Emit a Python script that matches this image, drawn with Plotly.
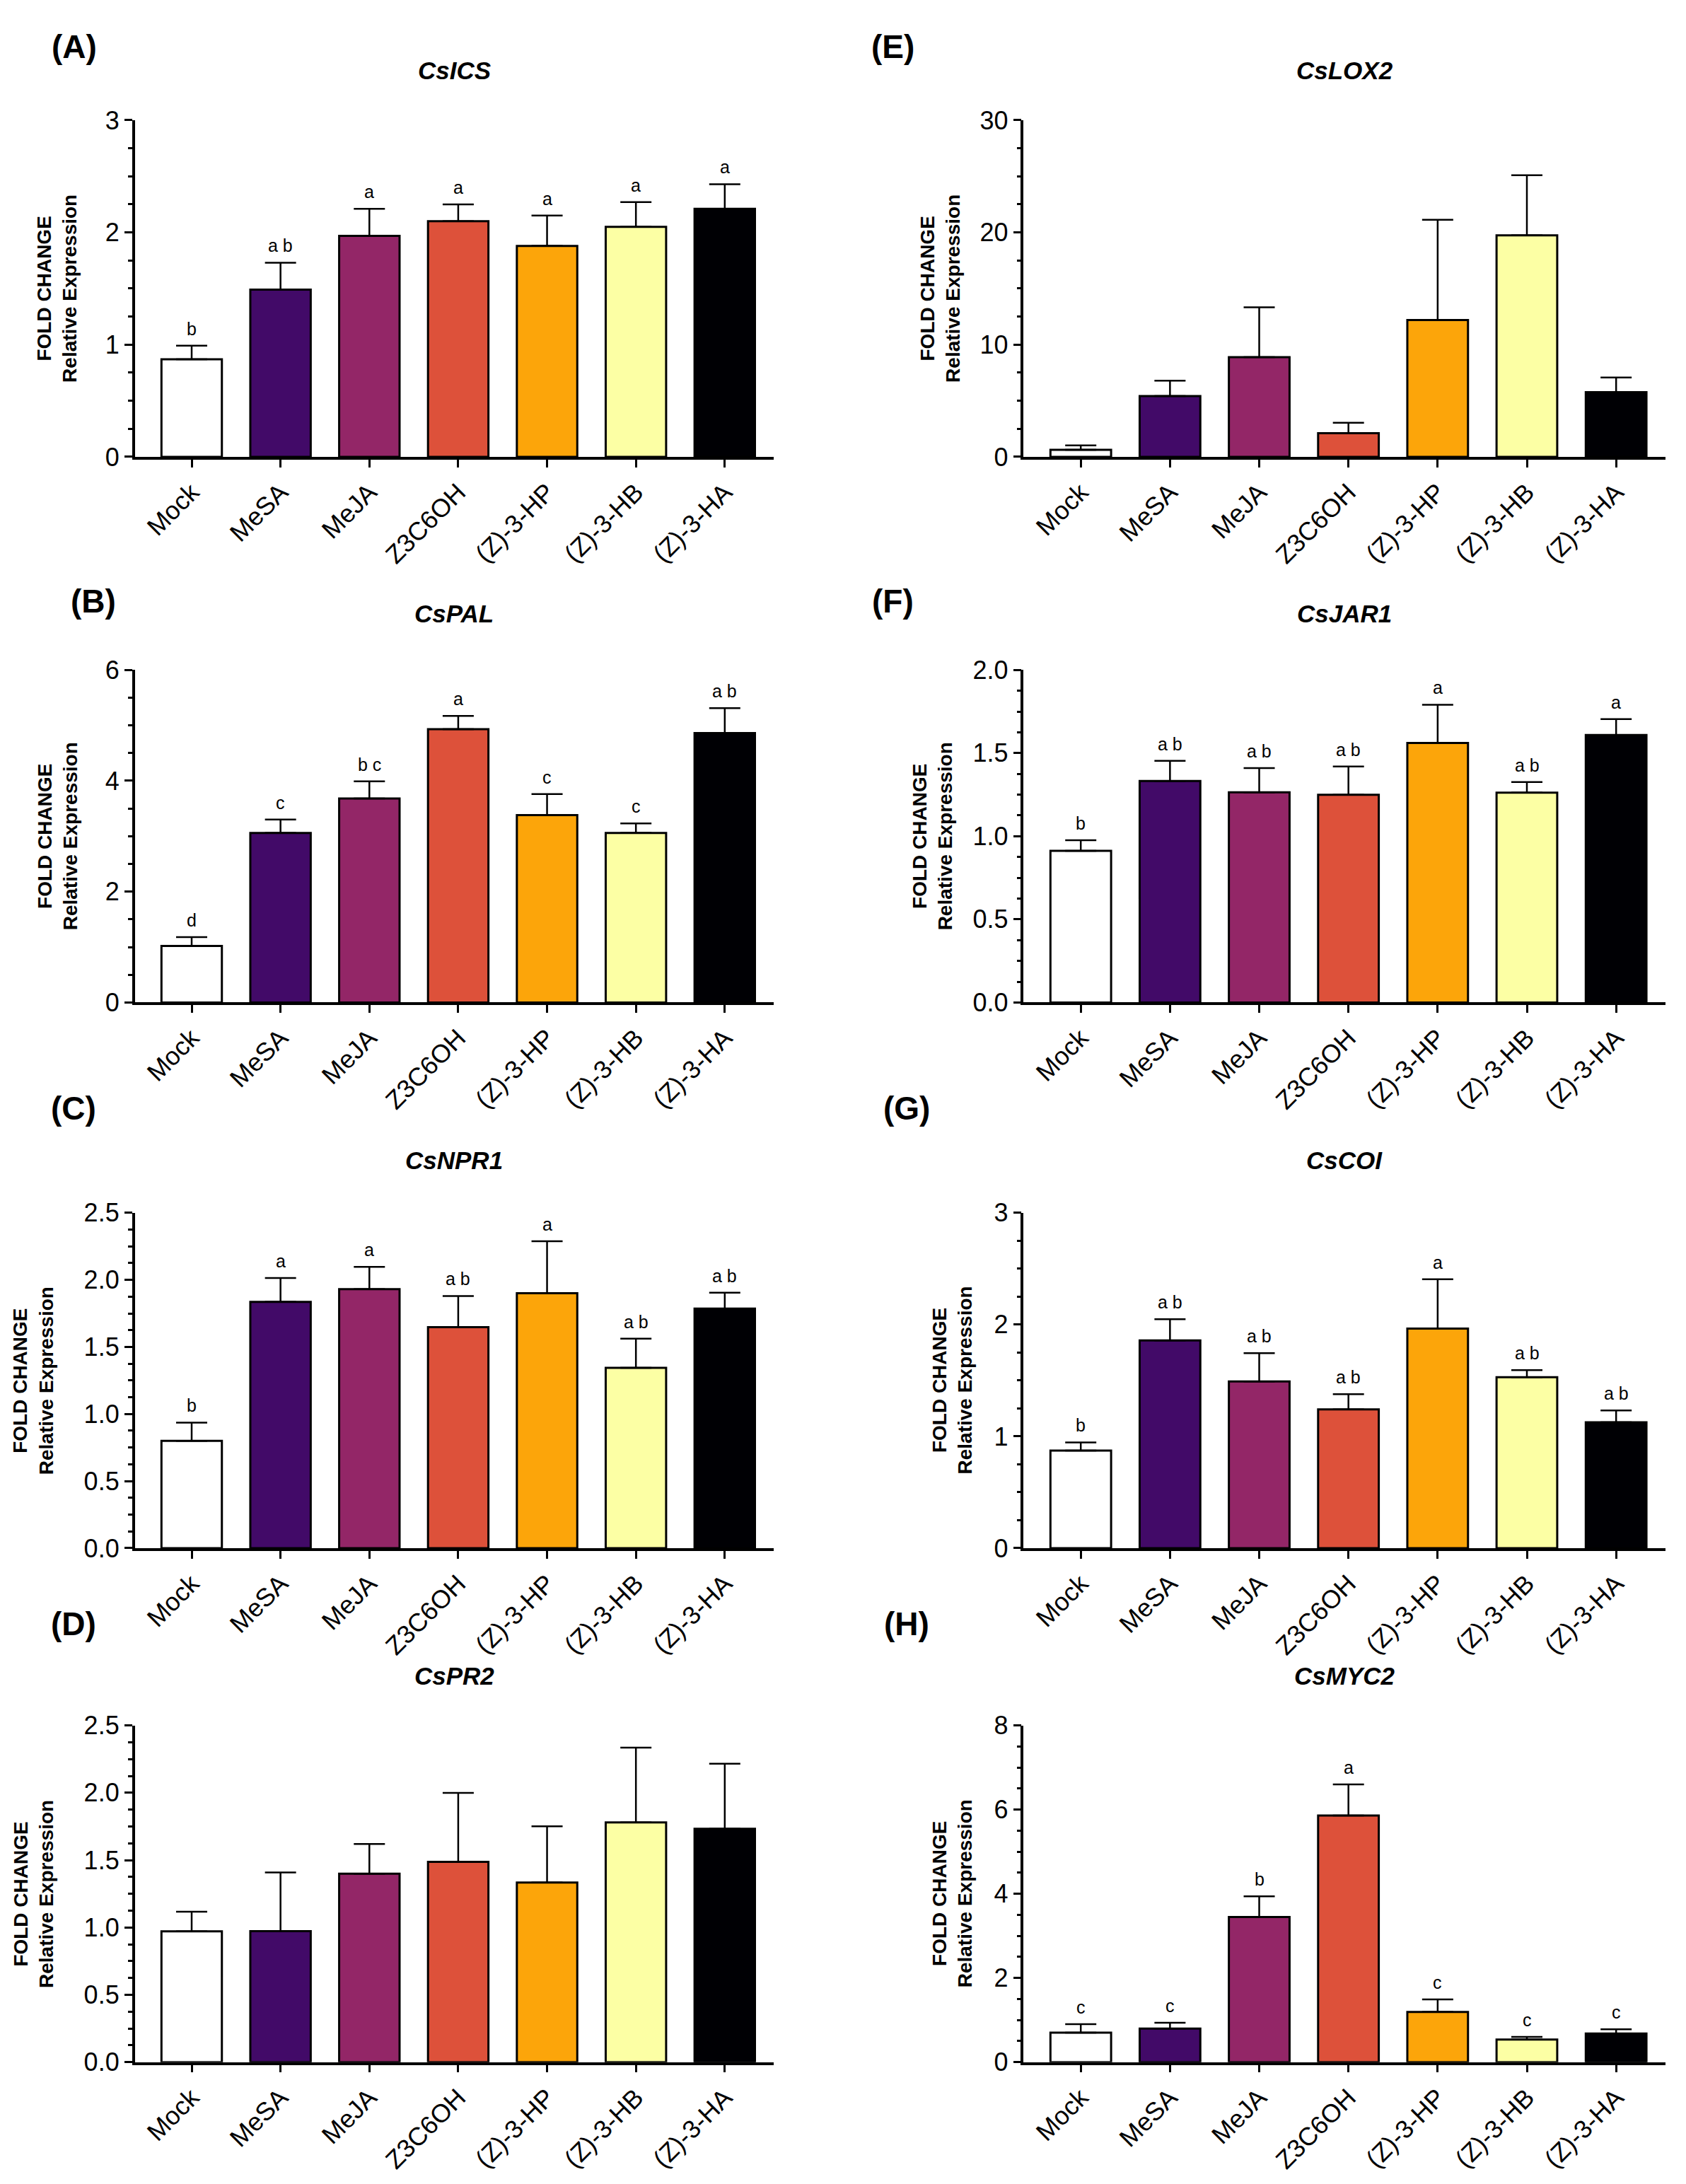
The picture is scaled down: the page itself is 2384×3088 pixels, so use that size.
import plotly.graph_objects as go

treatments = ["Mock", "MeSA", "MeJA", "Z3C6OH", "(Z)-3-HP", "(Z)-3-HB", "(Z)-3-HA"]
bar_colors = ["#FFFFFF", "#420A68", "#932667", "#DD513A", "#FCA50A", "#FCFFA4", "#000004"]

# (A) CsICS
ics_mean = [0.87, 1.49, 1.97, 2.10, 1.88, 2.05, 2.21]
ics_sem = [0.12, 0.24, 0.24, 0.15, 0.27, 0.22, 0.22]
ics_letters = ["b", "a b", "a", "a", "a", "a", "a"]

# (B) CsPAL
pal_mean = [1.02, 3.06, 3.68, 4.93, 3.38, 3.06, 4.86]
pal_sem = [0.16, 0.24, 0.31, 0.24, 0.38, 0.17, 0.45]
pal_letters = ["d", "c", "b c", "a", "c", "c", "a b"]

# (C) CsNPR1
npr1_mean = [0.80, 1.836, 1.931, 1.647, 1.90, 1.344, 1.786]
npr1_sem = [0.136, 0.178, 0.166, 0.233, 0.388, 0.218, 0.119]
npr1_letters = ["b", "a", "a", "a b", "a", "a b", "a b"]

# (D) CsPR2
pr2_mean = [0.971, 0.973, 1.399, 1.487, 1.333, 1.78, 1.733]
pr2_sem = [0.146, 0.436, 0.221, 0.512, 0.418, 0.556, 0.483]
pr2_letters = ["", "", "", "", "", "", ""]

# (E) CsLOX2
lox2_mean = [0.62, 5.42, 8.89, 2.10, 12.2, 19.74, 5.76]
lox2_sem = [0.40, 1.37, 4.44, 0.94, 8.93, 5.36, 1.31]
lox2_letters = ["", "", "", "", "", "", ""]

# (F) CsJAR1
jar1_mean = [0.912, 1.332, 1.264, 1.249, 1.561, 1.262, 1.609]
jar1_sem = [0.064, 0.122, 0.146, 0.17, 0.23, 0.064, 0.095]
jar1_letters = ["b", "a b", "a b", "a b", "a", "a b", "a"]

# (G) CsCOI
coi_mean = [0.872, 1.858, 1.492, 1.241, 1.964, 1.53, 1.126]
coi_sem = [0.074, 0.19, 0.252, 0.137, 0.441, 0.062, 0.106]
coi_letters = ["b", "a b", "a b", "a b", "a", "a b", "a b"]

# (H) CsMYC2
myc2_mean = [0.70, 0.795, 3.45, 5.86, 1.19, 0.536, 0.678]
myc2_sem = [0.20, 0.142, 0.49, 0.74, 0.30, 0.064, 0.10]
myc2_letters = ["c", "c", "b", "a", "c", "c", "c"]

FONT = "Liberation Sans, Arial, sans-serif"

# label, gene, mean, sem, letters, ymax, dtick, minor dtick, tick format, column, row
panels = [
    ("(A)", "CsICS", ics_mean, ics_sem, ics_letters, 3, 1, 0.25, "", 0, 0),
    ("(B)", "CsPAL", pal_mean, pal_sem, pal_letters, 6, 2, 0.5, "", 0, 1),
    ("(C)", "CsNPR1", npr1_mean, npr1_sem, npr1_letters, 2.5, 0.5, 0.125, ".1f", 0, 2),
    ("(D)", "CsPR2", pr2_mean, pr2_sem, pr2_letters, 2.5, 0.5, 0.125, ".1f", 0, 3),
    ("(E)", "CsLOX2", lox2_mean, lox2_sem, lox2_letters, 30, 10, 2.5, "", 1, 0),
    ("(F)", "CsJAR1", jar1_mean, jar1_sem, jar1_letters, 2.0, 0.5, 0.125, ".1f", 1, 1),
    ("(G)", "CsCOI", coi_mean, coi_sem, coi_letters, 3, 1, 0.25, "", 1, 2),
    ("(H)", "CsMYC2", myc2_mean, myc2_sem, myc2_letters, 8, 2, 0.5, "", 1, 3),
]

col_x = [[0.0766, 0.4555], [0.6038, 0.9843]]
row_y = [[0.7972, 0.9534], [0.5440, 0.6983], [0.2908, 0.4464], [0.0523, 0.2085]]
title_y = [0.9764, 0.7245, 0.4707, 0.2315]
label_xy = {
    "(A)": (0.0405, 0.9875), "(B)": (0.052, 0.7302), "(C)": (0.0404, 0.4949), "(D)": (0.0404, 0.2557),
    "(E)": (0.5264, 0.9875), "(F)": (0.5264, 0.7302), "(G)": (0.5346, 0.4949), "(H)": (0.5346, 0.2557),
}
ytitle_x = {
    "(A)": 0.0306, "(B)": 0.0306, "(C)": 0.0165, "(D)": 0.0165,
    "(E)": 0.5545, "(F)": 0.5495, "(G)": 0.5615, "(H)": 0.5615,
}

fig = go.Figure()
annotations = []

for i, (lab, gene, mean, sem, letters, ymax, dt, mdt, fmt, c, r) in enumerate(panels, start=1):
    xa = "x" if i == 1 else "x%d" % i
    ya = "y" if i == 1 else "y%d" % i
    fig.add_trace(go.Bar(
        x=treatments, y=mean, xaxis=xa, yaxis=ya, width=0.68,
        marker=dict(color=bar_colors, line=dict(color="black", width=3)),
        error_y=dict(type="data", symmetric=False, array=sem, arrayminus=[0] * len(sem),
                     color="black", thickness=2.5, width=22),
        showlegend=False, hoverinfo="skip",
    ))
    for t, m, s, l in zip(treatments, mean, sem, letters):
        if l:
            annotations.append(dict(x=t, y=m + s, xref=xa, yref=ya, text=l, showarrow=False,
                                    yanchor="bottom", yshift=8,
                                    font=dict(family=FONT, size=25, color="black")))
    key = "" if i == 1 else str(i)
    fig.layout["xaxis" + key] = dict(
        domain=col_x[c], anchor=ya, type="category", categoryorder="array",
        categoryarray=treatments, range=[-0.64, 6.55],
        showline=True, linecolor="black", linewidth=3.5, showgrid=False, zeroline=False,
        ticks="outside", ticklen=11, tickwidth=3, tickcolor="black", tickangle=-45,
        tickfont=dict(family=FONT, size=36, color="black"),
    )
    fig.layout["yaxis" + key] = dict(
        domain=row_y[r], anchor=xa, range=[0, ymax], dtick=dt, tick0=0, tickformat=fmt,
        showline=True, linecolor="black", linewidth=3.5, showgrid=False, zeroline=False,
        ticks="outside", ticklen=11, tickwidth=3, tickcolor="black",
        minor=dict(dtick=mdt, tick0=0, ticks="outside", ticklen=6, tickwidth=3, tickcolor="black"),
        tickfont=dict(family=FONT, size=36, color="black"),
    )
    xc = (col_x[c][0] + col_x[c][1]) / 2
    annotations.append(dict(x=xc, y=title_y[r], xref="paper", yref="paper", text="<b><i>%s</i></b>" % gene,
                            showarrow=False, xanchor="center", yanchor="middle",
                            font=dict(family=FONT, size=35, color="black")))
    lx, ly = label_xy[lab]
    annotations.append(dict(x=lx, y=ly, xref="paper", yref="paper", text="<b>%s</b>" % lab,
                            showarrow=False, xanchor="center", yanchor="middle",
                            font=dict(family=FONT, size=46, color="black")))
    annotations.append(dict(x=ytitle_x[lab], y=(row_y[r][0] + row_y[r][1]) / 2, xref="paper", yref="paper",
                            text="<b>FOLD CHANGE<br>Relative Expression</b>", textangle=-90,
                            showarrow=False, xanchor="center", yanchor="middle",
                            font=dict(family=FONT, size=28, color="black")))

fig.update_layout(
    width=2384, height=3088, margin=dict(l=0, r=0, t=0, b=0),
    paper_bgcolor="white", plot_bgcolor="white", showlegend=False,
    annotations=annotations, bargap=0.3,
)

fig.write_html("out.html")
